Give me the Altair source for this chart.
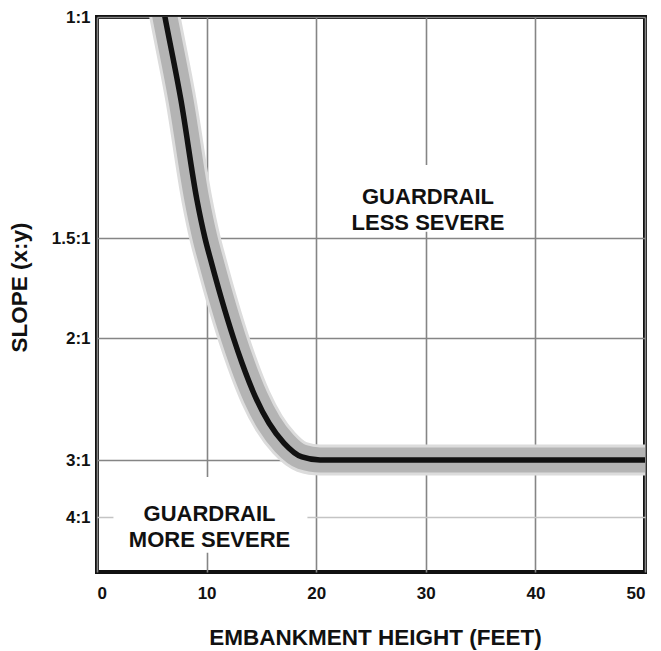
import altair as alt
import pandas as pd

# Embankment height (feet) vs. slope ratio (x:1) of the guardrail warrant curve
heights = [5.82, 6.20, 7.66, 9.12, 9.85, 10.45, 11.31, 12.45, 13.23, 14.46, 15.69, 17.06, 18.70, 20.35, 50]
slopes = [0.95, 1.0, 1.188, 1.414, 1.5, 1.625, 1.795, 2.0, 2.205, 2.484, 2.697, 2.861, 2.975, 3.0, 3.0]

x_ticks = [0, 10, 20, 30, 40, 50]
y_ticks = [1, 1.5, 2, 3, 4]
# the printed slope axis is not uniform: break values of the piecewise scale
y_breaks = [1, 1.5, 2, 3, 4, 5]
y_break_px = [0, 221, 321, 443, 500, 555]

label_upper = ["GUARDRAIL", "LESS SEVERE"]
label_lower = ["GUARDRAIL", "MORE SEVERE"]

df = pd.DataFrame({"height": heights, "slope": slopes})

FONT = "Liberation Sans"

x_enc = alt.X(
    "height:Q",
    scale=alt.Scale(domain=[0, 50], nice=False, zero=False),
    axis=alt.Axis(
        values=x_ticks,
        title="EMBANKMENT HEIGHT (FEET)",
        titleFont=FONT, titleFontSize=22.5, titleFontWeight="bold", titleColor="#111",
        titleX=278, titleY=72, titleAlign="center", titleBaseline="alphabetic",
        labelFont=FONT, labelFontSize=17, labelFontWeight="bold", labelColor="#111",
        labelPadding=13, ticks=False, domain=False,
        gridColor="#858585", gridWidth=1.6,
    ),
)
y_enc = alt.Y(
    "slope:Q",
    scale=alt.Scale(domain=y_breaks, range=y_break_px, nice=False, zero=False),
    axis=alt.Axis(
        values=y_ticks,
        labelExpr="datum.value + ':1'",
        title="SLOPE (x:y)",
        titleFont=FONT, titleFontSize=22.5, titleFontWeight="bold", titleColor="#111",
        titleAngle=270, titleX=-78, titleY=270, titleAlign="center", titleBaseline="middle",
        labelFont=FONT, labelFontSize=17, labelFontWeight="bold", labelColor="#111",
        labelPadding=7, ticks=False, domain=False,
        gridColor={"condition": {"test": "datum.value === 4", "value": "#c4c4c4"}, "value": "#858585"},
        gridWidth=1.6,
    ),
)

base = alt.Chart(df)

soft = base.mark_line(interpolate="monotone", color="#dcdcdc", strokeWidth=31, clip=True,
                      strokeCap="butt").encode(x=x_enc, y=y_enc)
band = base.mark_line(interpolate="monotone", color="#b4b4b4", strokeWidth=25, clip=True,
                      strokeCap="butt").encode(x="height:Q", y="slope:Q")
line = base.mark_line(interpolate="monotone", color="#111111", strokeWidth=5.5, clip=True,
                      strokeCap="butt").encode(x="height:Q", y="slope:Q")

box_upper = alt.Chart().mark_rect(color="white").encode(
    x=alt.datum(23), x2=alt.datum(37.5), y=alt.datum(1.335), y2=alt.datum(1.486))
box_lower = alt.Chart().mark_rect(color="white").encode(
    x=alt.datum(1.5), x2=alt.datum(19.2), y=alt.datum(3.30), y2=alt.datum(4.65))

txt_upper = alt.Chart().mark_text(
    text=label_upper, font=FONT, fontSize=22, fontWeight="bold", color="#111",
    lineHeight=26, align="center", baseline="middle").encode(
    x=alt.datum(30.2), y=alt.datum(1.407))
txt_lower = alt.Chart().mark_text(
    text=label_lower, font=FONT, fontSize=22, fontWeight="bold", color="#111",
    lineHeight=26, align="center", baseline="middle").encode(
    x=alt.datum(10.27), y=alt.datum(3.956))

chart = alt.layer(soft, box_upper, box_lower, band, line, txt_upper, txt_lower).properties(
    width=548, height=555,
    autosize=alt.AutoSizeParams(type="none"),
    padding={"left": 89, "top": 9, "right": 8, "bottom": 78},
    background="white",
).configure_view(stroke="#111", strokeWidth=4)

chart.save("out.html", embed_options={"renderer": "svg", "actions": False})
